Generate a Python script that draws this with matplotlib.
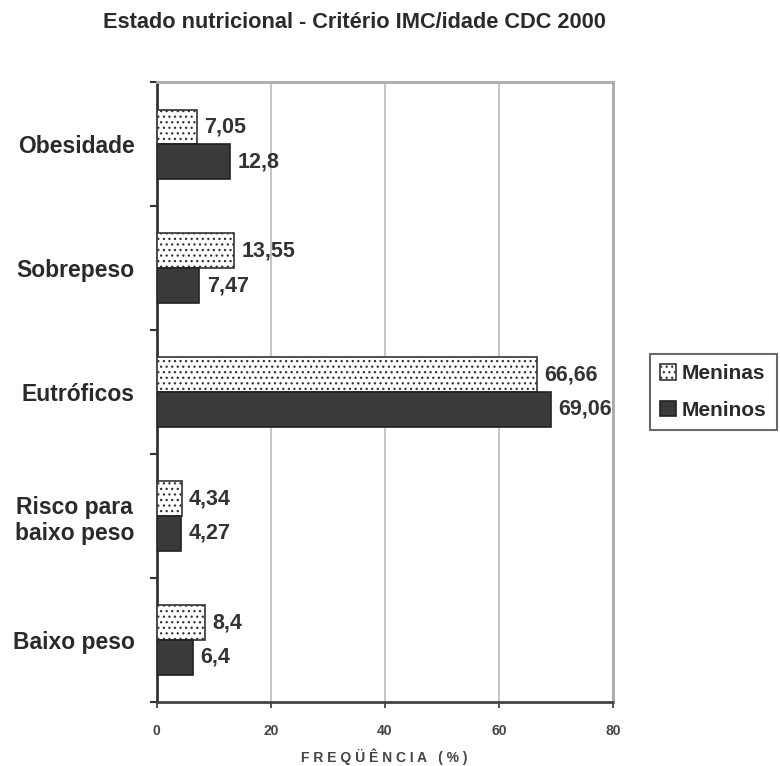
import matplotlib
matplotlib.use("Agg")
import matplotlib.pyplot as plt
import numpy as np

plt.rcParams['font.family'] = ['Liberation Sans', 'DejaVu Sans']
plt.rcParams['hatch.color'] = '#999999'
plt.rcParams['hatch.linewidth'] = 0.9

categories = ["Obesidade", "Sobrepeso", "Eutróficos", "Risco para\nbaixo peso", "Baixo peso"]
meninas = [7.05, 13.55, 66.66, 4.34, 8.4]
meninos = [12.8, 7.47, 69.06, 4.27, 6.4]
meninas_labels = ["7,05", "13,55", "66,66", "4,34", "8,4"]
meninos_labels = ["12,8", "7,47", "69,06", "4,27", "6,4"]
xticks = [0, 20, 40, 60, 80]

fig = plt.figure(figsize=(7.8, 7.66), dpi=100)
ax = fig.add_axes([0.201, 0.0836, 0.585, 0.809])

n = len(categories)
y = np.arange(n)
h = 0.28
b1 = ax.barh(y - h/2, meninas, height=h, color='white', edgecolor='#333333',
             hatch='...', linewidth=1.2, label='Meninas', zorder=3)
b2 = ax.barh(y + h/2, meninos, height=h, color='#3a3a3a', edgecolor='#222222',
             linewidth=1.2, label='Meninos', zorder=3)

for i in range(n):
    ax.text(meninas[i] + 1.3, y[i] - h/2, meninas_labels[i], va='center', ha='left',
            fontsize=15.5, fontweight='bold', color='#333333')
    ax.text(meninos[i] + 1.3, y[i] + h/2, meninos_labels[i], va='center', ha='left',
            fontsize=15.5, fontweight='bold', color='#333333')

ax.set_xlim(0, 80)
ax.set_ylim(n - 0.5, -0.5)
ax.set_xticks(xticks)
ax.set_xticklabels([str(v) for v in xticks], fontsize=10, fontweight='bold', color='#444444')
ax.xaxis.grid(True, color='#bbbbbb', linewidth=1.2, zorder=0)
ax.set_axisbelow(True)

ax.set_yticks(y)
ax.set_yticklabels(categories, fontsize=16.5, fontweight='bold', color='#2a2a2a',
                   multialignment='center')
ax.tick_params(axis='y', length=0, pad=16)
ax.set_yticks(np.arange(n + 1) - 0.5, minor=True)
ax.tick_params(axis='y', which='minor', length=5, width=1.5, color='#333333')
ax.tick_params(axis='x', length=4, width=1.2, color='#333333', pad=12)

ax.spines['left'].set_color('#333333')
ax.spines['left'].set_linewidth(2)
ax.spines['bottom'].set_color('#444444')
ax.spines['bottom'].set_linewidth(2)
ax.spines['bottom'].set_linestyle((0, (2, 1)))
ax.spines['top'].set_color('#aaaaaa')
ax.spines['top'].set_linewidth(2)
ax.spines['top'].set_linestyle((0, (2, 1)))
ax.spines['right'].set_color('#aaaaaa')
ax.spines['right'].set_linewidth(2)

fig.text(0.493, 0.0125, "F R E Q Ü Ê N C I A   ( % )", ha='center', va='center',
         fontsize=10, fontweight='bold', color='#444444')

fig.text(0.455, 0.971, "Estado nutricional - Critério IMC/idade CDC 2000",
         ha='center', va='center', fontsize=15.7, fontweight='bold', color='#2a2a2a')

leg = fig.legend(handles=[b1, b2], labels=['Meninas', 'Meninos'],
                 loc='center left', bbox_to_anchor=(0.833, 0.488),
                 frameon=True, fancybox=False,
                 handlelength=0.75, handleheight=0.75, handletextpad=0.3,
                 borderpad=0.5, borderaxespad=0, labelspacing=0.85, edgecolor='#444444',
                 prop={'weight': 'bold', 'size': 15})
leg.get_frame().set_linewidth(1.5)
for t in leg.get_texts():
    t.set_color('#2a2a2a')

fig.savefig("out.png", dpi=100)
